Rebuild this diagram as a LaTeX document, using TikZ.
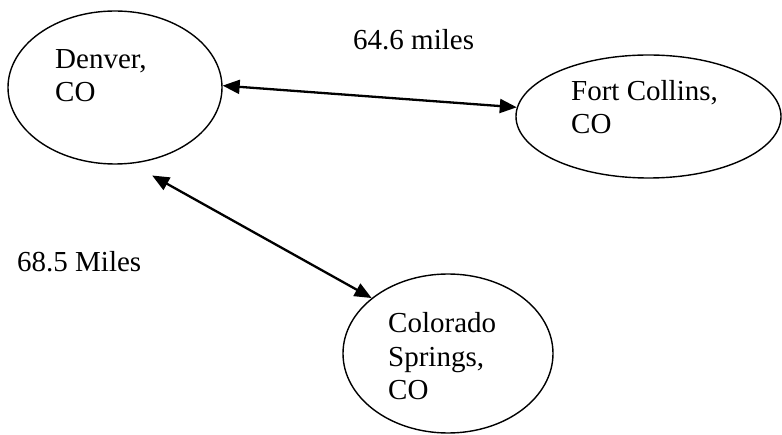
\documentclass[tikz,border=0pt]{standalone}
\usepackage{fontspec}
\setmainfont{Liberation Serif}
\usetikzlibrary{arrows.meta,shapes.geometric}
\tikzset{
  city/.style={draw, ellipse, line width=1.4pt, inner sep=0pt},
  citytext/.style={anchor=base west, inner sep=0pt, align=left,
    font=\fontsize{29pt}{33.5pt}\selectfont},
  dist/.style={anchor=base west, inner sep=0pt,
    font=\fontsize{29pt}{33.5pt}\selectfont},
  road/.style={{Triangle[length=17pt,width=14pt]}-{Triangle[length=17pt,width=14pt]},
    line width=2.3pt},
}
\begin{document}
\begin{tikzpicture}[x=1pt,y=-1pt]
  \useasboundingbox (0,0) rectangle (782,435);
  % cities
  \node[city, minimum width=214pt, minimum height=153pt] (den) at (115,87.5) {};
  \node[city, minimum width=265pt, minimum height=123pt] (ftc) at (648.5,116.5) {};
  \node[city, minimum width=210pt, minimum height=159pt] (cos) at (448,353.5) {};
  % city names (anchored at the baseline of the last line)
  \node[citytext] (denT) at (55,102) {Denver,\\CO};
  \node[citytext] (ftcT) at (571,134) {Fort Collins,\\CO};
  \node[citytext] (cosT) at (388,400) {Colorado\\Springs,\\CO};
  % distances
  \draw[road] (den.1.3) -- (ftc.176.5);
  \draw[road, shorten <=24pt] (den.-78.4) -- (cos.144.5);
  \node[dist] (d1) at (353,50) {64.6 miles};
  \node[dist] (d2) at (17,272) {68.5 Miles};
\end{tikzpicture}
\end{document}
